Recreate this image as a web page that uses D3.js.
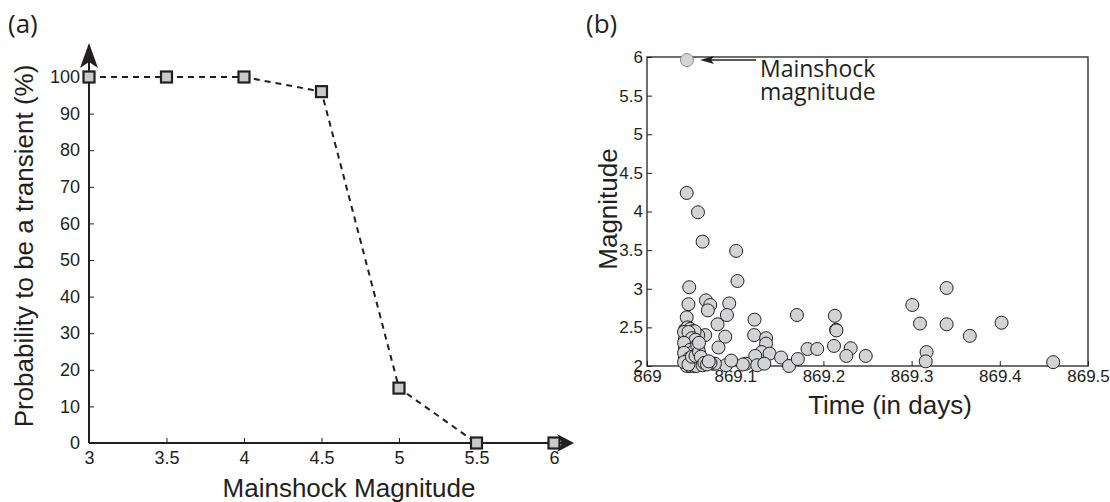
<!DOCTYPE html>
<html>
<head>
<meta charset="utf-8">
<script src="https://cdn.jsdelivr.net/npm/d3@7"></script>
<style>
  html, body { margin: 0; padding: 0; background: #fff; }
  svg { display: block; }
  .arial { font-family: "Liberation Sans", Arial, Helvetica, sans-serif; }
  .myriad { font-family: "Open Sans", "Noto Sans", sans-serif; }
</style>
</head>
<body>
<svg id="chart" width="1110" height="502"></svg>
<script>
// ---------- Panel (a) data ----------
const magnitudesA = [3, 3.5, 4, 4.5, 5, 5.5, 6];
const probabilityA = [100, 100, 100, 96, 15, 0, 0];
const xTicksA = [3, 3.5, 4, 4.5, 5, 5.5, 6];
const yTicksA = [0, 10, 20, 30, 40, 50, 60, 70, 80, 90, 100];

// ---------- Panel (b) data ----------
const mainshockTime = 869.0453;
const mainshockMag = 5.96;
const eventTimes = [
  869.045, 869.0578, 869.063, 869.1011, 869.1026, 869.0479, 869.047, 869.045,
  869.0668, 869.0717, 869.069, 869.0932, 869.0906, 869.080, 869.0887, 869.081,
  869.066, 869.1219, 869.1215, 869.135, 869.135, 869.130, 869.139, 869.1227,
  869.112, 869.1087, 869.125, 869.133, 869.152, 869.161, 869.171, 869.170,
  869.182, 869.193, 869.213, 869.2144, 869.2148, 869.212, 869.231, 869.226,
  869.248, 869.0895, 869.0955, 869.0747, 869.077, 869.072,
  869.3008, 869.3397, 869.3095, 869.3397, 869.366, 869.402, 869.317, 869.316, 869.4605,
  869.043, 869.046, 869.049, 869.052, 869.044, 869.047, 869.051, 869.043,
  869.046, 869.050, 869.044, 869.048, 869.052, 869.043, 869.046, 869.050,
  869.044, 869.048, 869.052, 869.043, 869.046, 869.050, 869.044, 869.048,
  869.052, 869.055, 869.057, 869.056, 869.054, 869.058, 869.060, 869.062,
  869.045, 869.049, 869.053, 869.058, 869.054,
  869.042, 869.047, 869.051, 869.055, 869.042, 869.049, 869.053, 869.057,
  869.042, 869.048, 869.053, 869.056, 869.042, 869.047, 869.051, 869.055,
  869.059, 869.061, 869.059, 869.063, 869.065, 869.068, 869.070
];
const eventMags = [
  4.24, 3.99, 3.61, 3.49, 3.10, 3.02, 2.80, 2.63,
  2.85, 2.79, 2.72, 2.81, 2.66, 2.54, 2.38, 2.24,
  2.40, 2.60, 2.40, 2.36, 2.29, 2.18, 2.16, 2.13,
  2.03, 2.02, 2.01, 2.03, 2.11, 2.00, 2.09, 2.66,
  2.22, 2.22, 2.65, 2.47, 2.46, 2.26, 2.23, 2.13,
  2.13, 2.01, 2.07, 2.03, 2.03, 2.04,
  2.79, 3.01, 2.55, 2.54, 2.39, 2.56, 2.18, 2.06, 2.05,
  2.47, 2.50, 2.48, 2.45, 2.42, 2.40, 2.38, 2.35,
  2.33, 2.31, 2.28, 2.26, 2.24, 2.22, 2.20, 2.18,
  2.15, 2.13, 2.12, 2.10, 2.08, 2.06, 2.04, 2.03,
  2.02, 2.05, 2.10, 2.16, 2.28, 2.22, 2.02, 2.07,
  2.00, 2.00, 2.00, 2.40, 2.45,
  2.44, 2.44, 2.36, 2.34, 2.30, 2.21, 2.19, 2.27,
  2.17, 2.10, 2.07, 2.00, 2.05, 2.02, 2.12, 2.13,
  2.18, 2.12, 2.30, 2.01, 2.04, 2.02, 2.06
];
const xTicksB = [869, 869.1, 869.2, 869.3, 869.4, 869.5];
const yTicksB = [2, 2.5, 3, 3.5, 4, 4.5, 5, 5.5, 6];

// ---------- Drawing ----------
const ink = "#231f20";
const svg = d3.select("#chart");

function styleAxis(g, size) {
  g.select(".domain").remove();
  g.attr("font-family", null).attr("font-size", null);
  g.selectAll("line").attr("stroke", ink).attr("stroke-width", 1);
  g.selectAll("text").attr("class", "arial").attr("fill", ink).style("font-size", size + "px");
}

// Panel (a)
const xA = d3.scaleLinear().domain([3, 6]).range([89, 554]);
const yA = d3.scaleLinear().domain([0, 100]).range([443, 77]);
const gA = svg.append("g");

gA.append("g")
  .attr("transform", `translate(${xA(3)},0)`)
  .call(d3.axisLeft(yA).tickValues(yTicksA).tickSize(-5).tickPadding(9).tickFormat(d3.format("d")))
  .call(g => styleAxis(g, 18));

gA.append("g")
  .attr("transform", `translate(0,${yA(0)})`)
  .call(d3.axisBottom(xA).tickValues(xTicksA).tickSize(-5).tickPadding(8).tickFormat(d => String(d)))
  .call(g => styleAxis(g, 18));

// axis lines with arrows
const ax0 = xA(3), ay0 = yA(0);
const yTip = yA(100) - 34, xTip = xA(6) + 20;
gA.append("line").attr("x1", ax0).attr("y1", ay0).attr("x2", ax0).attr("y2", yTip + 10)
  .attr("stroke", ink).attr("stroke-width", 2);
gA.append("line").attr("x1", ax0).attr("y1", ay0).attr("x2", xTip - 10).attr("y2", ay0)
  .attr("stroke", ink).attr("stroke-width", 2);
gA.append("path")
  .attr("d", `M${ax0},${yTip} L${ax0 + 9},${yTip + 25} L${ax0},${yTip + 19} L${ax0 - 9},${yTip + 25} Z`)
  .attr("fill", ink);
gA.append("path")
  .attr("d", `M${xTip},${ay0} L${xTip - 17},${ay0 - 9} L${xTip - 12},${ay0} L${xTip - 17},${ay0 + 9} Z`)
  .attr("fill", ink);

// dashed line + squares
const ptsA = magnitudesA.map((m, i) => [m, probabilityA[i]]);
gA.append("path")
  .datum(ptsA)
  .attr("d", d3.line().x(d => xA(d[0])).y(d => yA(d[1])))
  .attr("fill", "none").attr("stroke", ink).attr("stroke-width", 2)
  .attr("stroke-dasharray", "6,5");
gA.selectAll("rect.mk").data(ptsA).enter().append("rect")
  .attr("class", "mk")
  .attr("x", d => xA(d[0]) - 5.5).attr("y", d => yA(d[1]) - 5.5)
  .attr("width", 11).attr("height", 11)
  .attr("fill", "#cacaca").attr("stroke", ink).attr("stroke-width", 2.2);

// labels (a)
gA.append("text").attr("class", "arial").attr("x", 349).attr("y", 497).attr("text-anchor", "middle")
  .attr("fill", ink).style("font-size", "26px").text("Mainshock Magnitude");
gA.append("text").attr("class", "arial").attr("transform", "translate(33,246) rotate(-90)").attr("text-anchor", "middle")
  .attr("fill", ink).style("font-size", "26px").text("Probability to be a transient (%)");
gA.append("text").attr("class", "myriad").attr("x", 8).attr("y", 33)
  .attr("fill", ink).style("font-size", "26px").text("(a)");

// Panel (b)
const xB = d3.scaleLinear().domain([869, 869.5]).range([647, 1088]);
const yB = d3.scaleLinear().domain([2, 6]).range([366, 57]);
const gB = svg.append("g");

gB.append("g")
  .attr("transform", `translate(${xB(869)},0)`)
  .call(d3.axisLeft(yB).tickValues(yTicksB).tickSize(-5).tickPadding(4).tickFormat(d => String(d)))
  .call(g => styleAxis(g, 17));

gB.append("g")
  .attr("transform", `translate(0,${yB(2)})`)
  .call(d3.axisBottom(xB).tickValues(xTicksB).tickSize(-5).tickPadding(4).tickFormat(d => String(d)))
  .call(g => styleAxis(g, 17));

gB.append("rect")
  .attr("x", xB(869)).attr("y", yB(6))
  .attr("width", xB(869.5) - xB(869)).attr("height", yB(2) - yB(6))
  .attr("fill", "none").attr("stroke", ink).attr("stroke-width", 1.3);

const ptsB = eventTimes.map((t, i) => [t, eventMags[i]]);
gB.selectAll("circle.ev").data(ptsB).enter().append("circle")
  .attr("class", "ev")
  .attr("cx", d => xB(d[0])).attr("cy", d => yB(d[1])).attr("r", 6.5)
  .attr("fill", "#d1d3d4").attr("stroke", ink).attr("stroke-width", 1);

gB.append("circle")
  .attr("cx", xB(mainshockTime)).attr("cy", yB(mainshockMag)).attr("r", 6.5)
  .attr("fill", "#d6d6d6").attr("stroke", "#8a8a8a").attr("stroke-width", 1);

// annotation arrow
const mx = xB(mainshockTime), my = yB(mainshockMag);
gB.append("line").attr("x1", mx + 22).attr("y1", my).attr("x2", mx + 69).attr("y2", my)
  .attr("stroke", ink).attr("stroke-width", 1.5);
gB.append("path")
  .attr("d", `M${mx + 13},${my} L${mx + 27},${my - 4} L${mx + 24},${my} L${mx + 27},${my + 4} Z`)
  .attr("fill", ink);
gB.append("text").attr("class", "myriad").attr("x", mx + 73).attr("y", 77)
  .attr("fill", ink).style("font-size", "23px").text("Mainshock");
gB.append("text").attr("class", "myriad").attr("x", mx + 73).attr("y", 100)
  .attr("fill", ink).style("font-size", "23px").text("magnitude");

gB.append("text").attr("class", "arial").attr("x", 890).attr("y", 414).attr("text-anchor", "middle")
  .attr("fill", ink).style("font-size", "26px").text("Time (in days)");
gB.append("text").attr("class", "arial").attr("transform", "translate(617,209) rotate(-90)").attr("text-anchor", "middle")
  .attr("fill", ink).style("font-size", "26px").text("Magnitude");
gB.append("text").attr("class", "myriad").attr("x", 586).attr("y", 33)
  .attr("fill", ink).style("font-size", "26px").text("(b)");
</script>
</body>
</html>
